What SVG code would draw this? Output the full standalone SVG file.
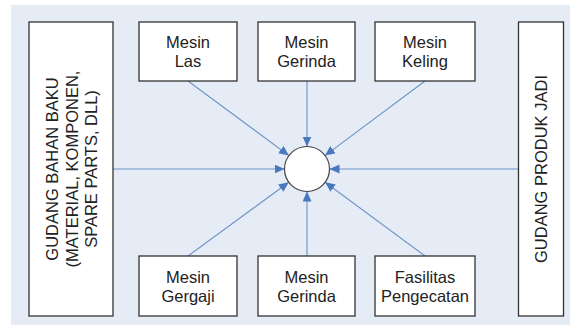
<svg xmlns="http://www.w3.org/2000/svg" width="570" height="325" viewBox="0 0 570 325">
  <style>
    .box { fill: #ffffff; stroke: #333333; stroke-width: 1.3; }
    .lbl { font-family: "Liberation Sans", Arial, sans-serif; font-size: 16.5px; fill: #222222; text-anchor: middle; }
    .flow { stroke: #6f92c8; stroke-width: 1.1; fill: none; marker-end: url(#head); }
  </style>
  <defs>
    <marker id="head" markerUnits="userSpaceOnUse" markerWidth="11" markerHeight="10" refX="10" refY="4.5" orient="auto">
      <path d="M0,0 L10,4.5 L0,9 z" fill="#4a78bd"/>
    </marker>
  </defs>

  <rect x="0" y="0" width="570" height="325" fill="#ffffff"/>
  <rect x="11" y="5" width="559" height="320" fill="#e5ecf6"/>

  <g id="connectors">
    <line class="flow" x1="113" y1="169" x2="284.5" y2="169"/>
    <line class="flow" x1="518" y1="169" x2="329.5" y2="169"/>
    <line class="flow" x1="307" y1="81" x2="307" y2="146.5"/>
    <line class="flow" x1="307" y1="256" x2="307" y2="191.5"/>
    <line class="flow" x1="188" y1="81" x2="288.9" y2="155.6"/>
    <line class="flow" x1="425" y1="81" x2="325" y2="155.6"/>
    <line class="flow" x1="188" y1="256" x2="288.8" y2="182.3"/>
    <line class="flow" x1="425" y1="256" x2="325.1" y2="182.3"/>
  </g>

  <g id="hub">
    <circle cx="307" cy="169" r="22.5" fill="#ffffff" stroke="#444444" stroke-width="1.2"/>
  </g>

  <g id="gudang-bahan-baku">
    <rect class="box" x="29" y="22" width="84" height="294"/>
    <g transform="translate(71,169) rotate(-90)">
      <text class="lbl" x="0" y="-13">GUDANG BAHAN BAKU</text>
      <text class="lbl" x="0" y="6.5">(MATERIAL, KOMPONEN,</text>
      <text class="lbl" x="0" y="26">SPARE PARTS, DLL)</text>
    </g>
  </g>

  <g id="gudang-produk-jadi">
    <rect class="box" x="518.5" y="22" width="45" height="294"/>
    <text class="lbl" transform="translate(547,169) rotate(-90)" x="0" y="0">GUDANG PRODUK JADI</text>
  </g>

  <g id="mesin-las">
    <rect class="box" x="139" y="22" width="98" height="59"/>
    <text class="lbl" x="188" y="48">Mesin</text>
    <text class="lbl" x="188" y="67">Las</text>
  </g>

  <g id="mesin-gerinda-atas">
    <rect class="box" x="258" y="22" width="97" height="59"/>
    <text class="lbl" x="306.5" y="48">Mesin</text>
    <text class="lbl" x="306.5" y="67">Gerinda</text>
  </g>

  <g id="mesin-keling">
    <rect class="box" x="375" y="22" width="100" height="59"/>
    <text class="lbl" x="425" y="48">Mesin</text>
    <text class="lbl" x="425" y="67">Keling</text>
  </g>

  <g id="mesin-gergaji">
    <rect class="box" x="139" y="256" width="98" height="60"/>
    <text class="lbl" x="188" y="282.5">Mesin</text>
    <text class="lbl" x="188" y="301.5">Gergaji</text>
  </g>

  <g id="mesin-gerinda-bawah">
    <rect class="box" x="258" y="256" width="97" height="60"/>
    <text class="lbl" x="306.5" y="282.5">Mesin</text>
    <text class="lbl" x="306.5" y="301.5">Gerinda</text>
  </g>

  <g id="fasilitas-pengecatan">
    <rect class="box" x="375" y="256" width="100" height="60"/>
    <text class="lbl" x="425" y="282.5">Fasilitas</text>
    <text class="lbl" x="425" y="301.5">Pengecatan</text>
  </g>
</svg>
